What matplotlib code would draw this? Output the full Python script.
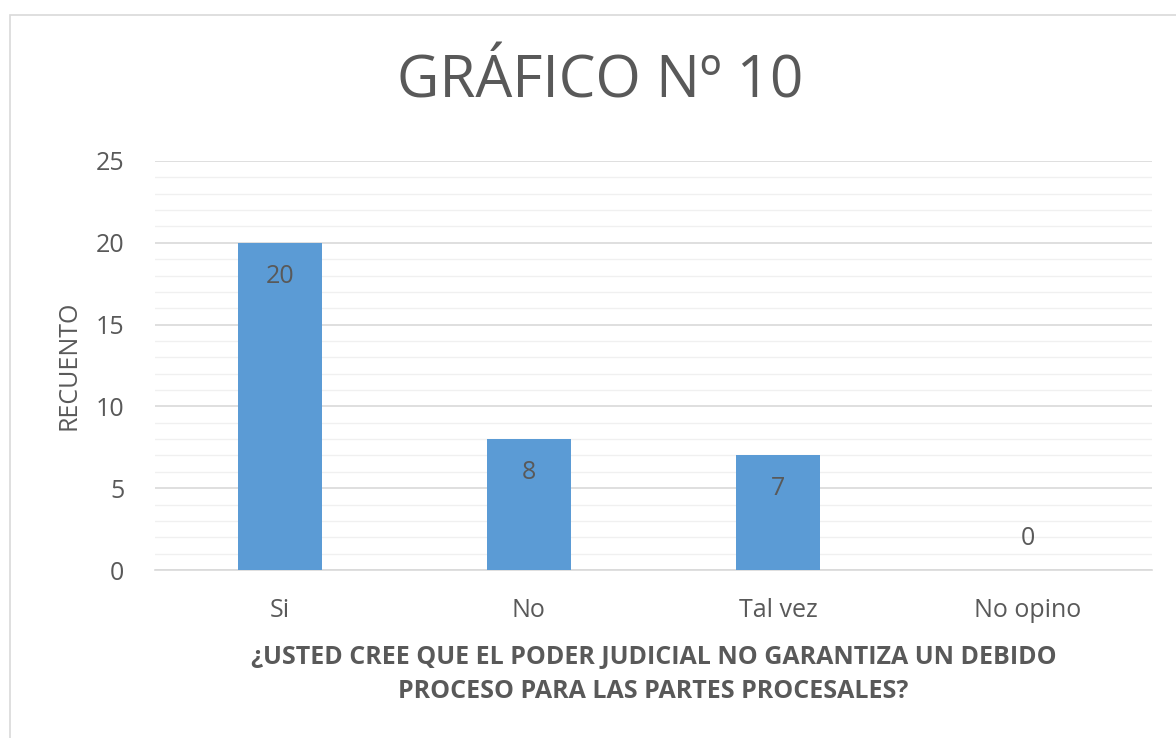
import numpy as np
import matplotlib
matplotlib.use("Agg")
import matplotlib.pyplot as plt
from matplotlib.patches import Rectangle

categorias = ["Si", "No", "Tal vez", "No opino"]
recuento = [20, 8, 7, 0]
titulo = "GRÁFICO Nº 10"
etiqueta_x = "¿USTED CREE QUE EL PODER JUDICIAL NO GARANTIZA UN DEBIDO\nPROCESO PARA LAS PARTES PROCESALES?"
etiqueta_y = "RECUENTO"

plt.rcParams['font.family'] = ['Open Sans', 'DejaVu Sans']
gris = '#595959'

fig = plt.figure(figsize=(11.76, 7.38), dpi=100)
# marco del grafico
fig.patches.append(Rectangle((10/1176, -0.1), 1.2, 1 - 15/738 + 0.1, transform=fig.transFigure,
                             fill=False, edgecolor='#D9D9D9', linewidth=1.2))

ax = fig.add_axes([155/1176, 1 - 570/738, 997/1176, 409/738])
x = np.arange(len(categorias))
ax.bar(x, recuento, width=0.337, color='#5B9BD5', zorder=3)

for xi, v in zip(x, recuento):
    if v > 0:
        ax.annotate(str(v), (xi, v), xytext=(0, -24), textcoords='offset points',
                    ha='center', va='center', fontsize=18, color=gris, zorder=4)
    else:
        ax.annotate(str(v), (xi, v), xytext=(0, 23), textcoords='offset points',
                    ha='center', va='center', fontsize=18, color=gris, zorder=4)

ax.set_xlim(-0.5, 3.5)
ax.set_ylim(0, 25)
ax.set_yticks(np.arange(0, 26, 5))
ax.set_yticks(np.arange(0, 26, 1), minor=True)
ax.grid(which='major', axis='y', color='#D9D9D9', linewidth=1.2, zorder=0)
ax.grid(which='minor', axis='y', color='#F0F0F0', linewidth=1.0, zorder=0)
ax.set_xticks(x)
ax.set_xticklabels(categorias)
ax.tick_params(axis='both', which='both', length=0, labelsize=18, colors=gris)
ax.tick_params(axis='x', pad=20)
ax.tick_params(axis='y', pad=22)
for s in ['top', 'right', 'left']:
    ax.spines[s].set_visible(False)
ax.spines['bottom'].set_color('#D9D9D9')
ax.spines['bottom'].set_linewidth(1.2)

ax.set_ylabel(etiqueta_y, fontsize=18, color=gris, labelpad=10)
ax.set_xlabel(etiqueta_x, fontsize=18, color=gris, fontweight='bold', labelpad=16, linespacing=1.5)
fig.text(600/1176, 1 - 82/738, titulo, ha='center', va='center', fontsize=42, color=gris)

fig.savefig("out.png", dpi=100)
